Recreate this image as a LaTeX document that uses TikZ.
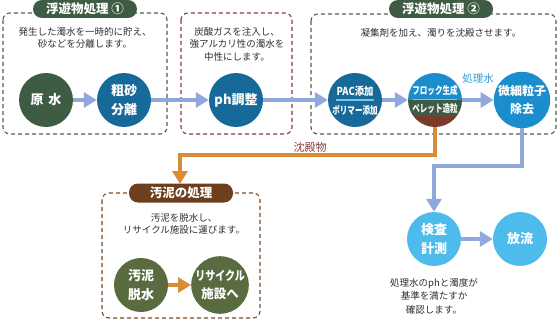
\documentclass[tikz,border=0pt]{standalone}
\usepackage{fontspec}
\usepackage{graphicx}
\newfontfamily\jp{Noto Sans CJK JP}
\usetikzlibrary{arrows.meta,calc}
\definecolor{arrowblue}{HTML}{90A8DC}
\definecolor{sorange}{HTML}{D98C34}
\definecolor{dkgreen}{HTML}{3E5C44}
\definecolor{dkblue}{HTML}{17699A}
\definecolor{midblue}{HTML}{1B8DCD}
\definecolor{ltblue}{HTML}{4DBBEC}
\definecolor{olive}{HTML}{5A6B40}
\definecolor{pillbrown}{HTML}{6E3F1E}
\definecolor{dashbrown}{HTML}{7A4B2B}
\definecolor{dashred}{HTML}{8A3A3A}
\definecolor{dashgreen}{HTML}{4D5F50}
\definecolor{flockgreen}{HTML}{3E5B45}
\definecolor{flockbrown}{HTML}{7B3B2A}
\definecolor{divline}{HTML}{7EC3EA}
\definecolor{txt}{HTML}{2E2E2E}
\definecolor{lblblue}{HTML}{2A9AD5}
\tikzset{
  every node/.style={font=\jp},
  dbox/.style={draw, line width=1.1pt, dash pattern=on 4pt off 3pt, rounded corners=7pt},
  pill/.style={rounded corners=9pt, minimum width=104pt, minimum height=18pt, inner sep=0pt, text=white, font=\jp\bfseries\fontsize{12.5}{13}\selectfont},
  circ/.style={circle, minimum size=54pt, inner sep=0pt, text=white, align=center, font=\jp\bfseries\fontsize{13}{19}\selectfont},
  desc/.style={text=txt, align=center, font=\jp\fontsize{9.5}{12.5}\selectfont},
  barrow/.style={draw=arrowblue, line width=4.5pt, -{Triangle[length=13pt,width=15pt]}},
  oarrow/.style={draw=sorange, line width=3.5pt, -{Triangle[length=13pt,width=15pt]}},
  intext/.style={text=white, inner sep=0pt, font=\jp\bfseries\fontsize{10.5}{11}\selectfont},
}
\begin{document}
\begin{tikzpicture}[x=1pt,y=1pt]
\useasboundingbox (0,0) rectangle (559,-321);
% dashed boxes
\draw[dbox, dashgreen] (3,-13) rectangle (167,-134);
\draw[dbox, dashred] (181,-13) rectangle (292,-134);
\draw[dbox, dashgreen] (311,-14) rectangle (556,-134);
\draw[dbox, dashbrown] (102,-193) rectangle (260,-318);
% pills
\node[pill, fill=dkgreen] (p1) at (85,-9) {浮遊物処理 ①};
\node[pill, fill=dkgreen] (p3) at (441,-9) {浮遊物処理 ②};
\node[pill, fill=pillbrown, minimum height=19pt] (p4) at (181,-193) {汚泥の処理};
% descriptions
\node[desc] (d1) at (85,-38) {発生した濁水を一時的に貯え、\\砂などを分離します。};
\node[desc] (d2) at (237,-44) {炭酸ガスを注入し、\\強アルカリ性の濁水を\\中性にします。};
\node[desc] (d3) at (441,-33) {凝集剤を加え、濁りを沈殿させます。};
\node[desc] (d4) at (184,-224) {汚泥を脱水し、\\リサイクル施設に運びます。};
\node[desc, font=\jp\fontsize{9.5}{13.5}\selectfont] (d5) at (434,-296) {処理水のphと濁度が\\基準を満たすか\\確認します。};
% flock circle background
\begin{scope}
\clip (435,-100) circle (27);
\fill[midblue] (400,-60) rectangle (470,-100);
\fill[flockgreen] (400,-100) rectangle (470,-116);
\fill[flockbrown] (400,-116) rectangle (470,-140);
\end{scope}
% circles
\node[circ, fill=dkgreen] (gensui) at (46,-100) {原\hspace{5pt}水};
\node[circ, fill=dkblue] (sosa) at (124,-100) {粗砂\\分離};
\node[circ, fill=dkblue] (ph) at (236,-100) {ph調整};
\node[circ, fill=dkblue] (pac) at (355,-100) {};
\draw[divline, line width=1.2pt] (336,-100) -- (374,-100);
\node[intext, font=\jp\bfseries\fontsize{11}{11}\selectfont] (pact) at (355,-91) {\scalebox{0.85}[1]{PAC添加}};
\node[intext] (polt) at (355,-110) {\scalebox{0.72}[1]{ポリマー添加}};
\node[circ] (flock) at (435,-100) {};
\draw[divline, line width=1.2pt] (413,-99.5) -- (457,-99.5);
\node[intext] (flt) at (435,-90) {\scalebox{0.72}[1]{フロック生成}};
\node[intext] (pet) at (435,-109) {\scalebox{0.72}[1]{ペレット造粒}};
\node[circ, fill=midblue, font=\jp\bfseries\fontsize{12}{18}\selectfont] (bisai) at (522,-100) {微細粒子\\除去};
\node[circ, fill=ltblue] (kensa) at (434,-239) {検査\\計測};
\node[circ, fill=ltblue] (horyu) at (520,-239) {放流};
\node[circ, fill=olive] (odei) at (141,-285) {汚泥\\脱水};
\node[circ, fill=olive, font=\jp\bfseries\fontsize{12.5}{18}\selectfont] (recyc) at (220,-285) {\scalebox{0.8}[1]{リサイクル}\\施設へ};
% labels
\node[text=lblblue, font=\jp\fontsize{10.5}{10}\selectfont] (shorisui) at (478,-79) {処理水};
\node[text=dashred, font=\jp\fontsize{11}{10}\selectfont] (chinden) at (310,-147) {沈殿物};
% arrows
\draw[barrow] (gensui.east) -- (sosa.west);
\draw[barrow] (sosa.east) -- (ph.west);
\draw[barrow] (ph.east) -- (pac.west);
\draw[barrow] (pac.east) -- (flock.west);
\draw[barrow] (flock.east) -- (bisai.west);
\draw[barrow, line width=4pt] (bisai.south) |- (434,-166) -- (kensa.north);
\draw[barrow] (kensa.east) -- (horyu.west);
\draw[oarrow] (flock.south) |- (180,-155) -- (180,-184);
\draw[oarrow] (odei.east) -- (recyc.west);
\end{tikzpicture}
\end{document}
